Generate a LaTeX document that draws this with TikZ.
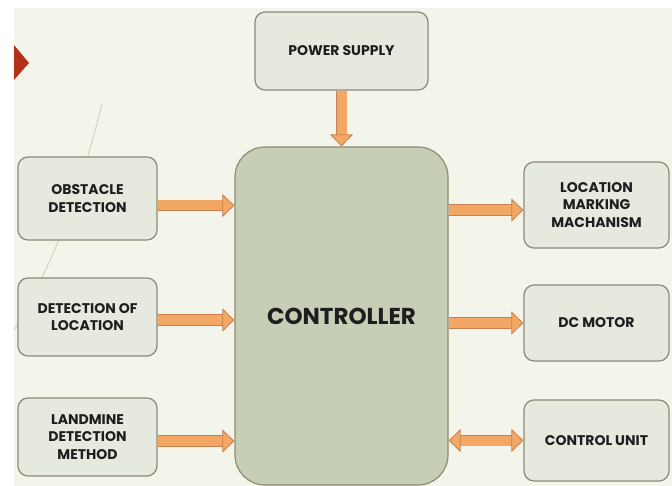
\documentclass[tikz,border=0pt]{standalone}
\usepackage{fontspec}
\setmainfont{Poppins}
\usetikzlibrary{arrows.meta}

\definecolor{bgcream}{HTML}{F4F5EA}
\definecolor{boxfill}{HTML}{E5E9DE}
\definecolor{boxedge}{HTML}{8C8A78}
\definecolor{ctrlfill}{HTML}{C6CFB5}
\definecolor{ctrledge}{HTML}{8F8A70}
\definecolor{arrowfill}{HTML}{F2A765}
\definecolor{arrowedge}{HTML}{C98050}
\definecolor{markred}{HTML}{B5301A}
\definecolor{faintline}{HTML}{D0D2C0}
\definecolor{labeltext}{HTML}{1E1E1E}

\begin{document}
\begin{tikzpicture}[x=1pt,y=-1pt,
  block/.style={draw=boxedge, line width=1.2pt, fill=boxfill, rounded corners=10pt,
    align=center, inner sep=0pt, text=labeltext,
    font=\bfseries\fontsize{14}{17.5}\selectfont},
  fatarrow/.style={draw=arrowfill, line width=10pt,
    -{Triangle[length=12pt,width=23pt,line width=0.8pt,color=arrowedge,fill=arrowfill]},
    preaction={draw=arrowedge, line width=11.6pt, arrows=-, shorten >=11pt}},
  fatboth/.style={draw=arrowfill, line width=10pt,
    {Triangle[length=12pt,width=23pt,line width=0.8pt,color=arrowedge,fill=arrowfill]}-{Triangle[length=12pt,width=23pt,line width=0.8pt,color=arrowedge,fill=arrowfill]},
    preaction={draw=arrowedge, line width=11.6pt, arrows=-, shorten >=11pt, shorten <=11pt}}
  ]

% Slide background
\useasboundingbox (0,0) rectangle (672,486);
\fill[white] (0,0) rectangle (672,486);
\fill[bgcream] (14,8) rectangle (672,486);

% Slide marker and faint template curve
\fill[markred] (14,45) -- (29,63) -- (14,80) -- cycle;
\draw[faintline, line width=0.9pt] (102,104) .. controls (80,190) and (60,250) .. (14,330);

% Controller
\node[draw=ctrledge, line width=1.2pt, fill=ctrlfill, rounded corners=30pt,
  minimum width=213pt, minimum height=338pt, text=labeltext,
  font=\bfseries\fontsize{23}{26}\selectfont] (ctrl) at (341.5,316) {CONTROLLER};

% Power supply
\node[block, minimum width=173pt, minimum height=78pt] (power) at (341.5,51) {POWER SUPPLY};

% Inputs
\node[block, minimum width=139pt, minimum height=83pt] (obst) at (87.5,198.5) {OBSTACLE\\DETECTION};
\node[block, minimum width=139pt, minimum height=78pt] (detloc) at (87.5,317) {DETECTION OF\\LOCATION};
\node[block, minimum width=139pt, minimum height=78pt] (landm) at (87.5,437) {LANDMINE\\DETECTION\\METHOD};

% Outputs
\node[block, minimum width=145pt, minimum height=86pt] (locmark) at (596.5,205) {LOCATION\\MARKING\\MACHANISM};
\node[block, minimum width=145pt, minimum height=76pt] (dcmotor) at (596.5,323) {DC MOTOR};
\node[block, minimum width=145pt, minimum height=81pt] (ctrlunit) at (596.5,440.5) {CONTROL UNIT};

% Arrows
\draw[fatarrow] (power.south) -- (ctrl.north);
\draw[fatarrow] ([yshift=-7pt]obst.east) -- ([yshift=-7pt]obst.east -| ctrl.west);
\draw[fatarrow] ([yshift=-3pt]detloc.east) -- ([yshift=-3pt]detloc.east -| ctrl.west);
\draw[fatarrow] ([yshift=-4pt]landm.east) -- ([yshift=-4pt]landm.east -| ctrl.west);
\draw[fatarrow] ([yshift=-5pt]locmark.west -| ctrl.east) -- ([yshift=-5pt]locmark.west);
\draw[fatarrow] (dcmotor.west -| ctrl.east) -- (dcmotor.west);
\draw[fatboth] (ctrlunit.west -| ctrl.east) -- (ctrlunit.west);

\end{tikzpicture}
\end{document}
